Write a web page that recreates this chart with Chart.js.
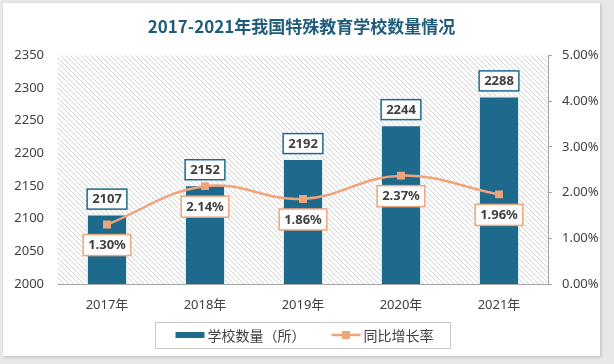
<!DOCTYPE html>
<html><head><meta charset="utf-8">
<script src="https://cdn.jsdelivr.net/npm/chart.js@4"></script>
<style>
html,body{margin:0;padding:0;background:#e8e8e8;width:614px;height:364px;overflow:hidden}
#panel{position:absolute;left:3px;top:3px;width:597px;height:353px;background:#fff;box-shadow:1px 1px 3px rgba(0,0,0,0.2)}
canvas{display:block}
</style></head><body>
<div id="panel"><canvas id="c" width="597" height="353"></canvas></div>
<script>
const categories = ['2017年','2018年','2019年','2020年','2021年'];
const schoolCounts = [2107, 2152, 2192, 2244, 2288];
const growthRates = [1.30, 2.14, 1.86, 2.37, 1.96];
const leftTicks = [2000, 2050, 2100, 2150, 2200, 2250, 2300, 2350];
const rightTicks = [0, 1, 2, 3, 4, 5];
const seriesNames = ['学校数量（所）', '同比增长率'];
const titleText = '2017-2021年我国特殊教育学校数量情况';

const BAR_COLOR = '#1d6a8c';
const LINE_COLOR = '#f0a47a';
const TEXT_COLOR = '#404040';
const AXIS_COLOR = '#a6a6a6';
const FONT = '"Noto Sans", "Noto Sans CJK SC", sans-serif';

function makeHatch(){
  const s = 5;
  const c = document.createElement('canvas'); c.width = s; c.height = s;
  const g = c.getContext('2d');
  g.strokeStyle = '#d2d2d2'; g.lineWidth = 1;
  g.beginPath();
  for (let k = -1; k <= 1; k++){ g.moveTo(k*s, 0); g.lineTo(k*s + s, s); }
  g.stroke();
  return c;
}

const hatchPlugin = {
  id: 'hatch',
  beforeDatasetsDraw(chart){
    const {ctx, chartArea: a} = chart;
    ctx.save();
    ctx.fillStyle = ctx.createPattern(makeHatch(), 'repeat');
    ctx.fillRect(a.left, a.top, a.right - a.left, a.bottom - a.top);
    ctx.restore();
  }
};

function drawBox(ctx, x, y, w, h, color){
  ctx.fillStyle = '#ffffff';
  ctx.fillRect(x, y, w, h);
  ctx.lineWidth = 1.5;
  ctx.strokeStyle = color;
  ctx.strokeRect(x, y, w, h);
}

const labelPlugin = {
  id: 'valueLabels',
  afterDatasetsDraw(chart){
    const ctx = chart.ctx;
    const lineMeta = chart.getDatasetMeta(0);
    const barMeta = chart.getDatasetMeta(1);
    ctx.save();
    ctx.font = 'bold 13px ' + FONT;
    ctx.textAlign = 'center';
    ctx.textBaseline = 'middle';
    barMeta.data.forEach((bar, i) => {
      const txt = String(schoolCounts[i]);
      const w = ctx.measureText(txt).width + 10, h = 20;
      const bottom = bar.y - 5;
      drawBox(ctx, bar.x - w/2, bottom - h, w, h, BAR_COLOR);
      ctx.fillStyle = TEXT_COLOR;
      ctx.fillText(txt, bar.x, bottom - h/2 + 0.5);
    });
    lineMeta.data.forEach((pt, i) => {
      const txt = growthRates[i].toFixed(2) + '%';
      const w = ctx.measureText(txt).width + 10, h = 21;
      const top = pt.y + 10;
      drawBox(ctx, pt.x - w/2, top, w, h, LINE_COLOR);
      ctx.fillStyle = TEXT_COLOR;
      ctx.fillText(txt, pt.x, top + h/2 + 0.5);
    });
    ctx.restore();
  }
};

const legendPlugin = {
  id: 'boxLegend',
  afterDraw(chart){
    const ctx = chart.ctx;
    ctx.save();
    ctx.font = '14px "Noto Sans CJK SC", sans-serif';
    const symW = 29, gap = 3, spacing = 26;
    const w0 = ctx.measureText(seriesNames[0]).width;
    const w1 = ctx.measureText(seriesNames[1]).width;
    const total = symW + gap + w0 + spacing + symW + gap + w1;
    const cx = chart.width/2 + 3;
    const cy = chart.height - 21;
    let x = cx - total/2;
    ctx.strokeStyle = '#c8c8c8'; ctx.lineWidth = 1;
    ctx.strokeRect(Math.round(x - 21) + 0.5, Math.round(cy - 13) + 0.5, Math.round(total + 37), 26);
    ctx.fillStyle = BAR_COLOR;
    ctx.fillRect(x, cy - 3, symW, 6);
    x += symW + gap;
    ctx.fillStyle = TEXT_COLOR; ctx.textAlign = 'left'; ctx.textBaseline = 'middle';
    ctx.fillText(seriesNames[0], x, cy + 1);
    x += w0 + spacing;
    ctx.strokeStyle = LINE_COLOR; ctx.lineWidth = 2.5;
    ctx.beginPath(); ctx.moveTo(x, cy); ctx.lineTo(x + symW, cy); ctx.stroke();
    ctx.fillStyle = LINE_COLOR;
    ctx.fillRect(x + symW/2 - 4, cy - 4, 8, 8);
    x += symW + gap;
    ctx.fillStyle = TEXT_COLOR;
    ctx.fillText(seriesNames[1], x, cy + 1);
    ctx.restore();
  }
};

const tickFont = {family: FONT, size: 13};

new Chart(document.getElementById('c'), {
  data: {
    labels: categories,
    datasets: [
      {
        type: 'line', label: seriesNames[1], data: growthRates, yAxisID: 'y1',
        borderColor: LINE_COLOR, backgroundColor: LINE_COLOR, borderWidth: 2.5,
        tension: 0.4, pointStyle: 'rect', pointRadius: 5.6, pointBorderWidth: 0
      },
      {
        type: 'bar', label: seriesNames[0], data: schoolCounts, yAxisID: 'y',
        backgroundColor: BAR_COLOR, borderColor: 'rgba(235,243,247,0.95)', borderWidth: 1.5,
        categoryPercentage: 1, barPercentage: 0.42
      }
    ]
  },
  options: {
    responsive: false,
    animation: false,
    layout: {padding: {top: 0, left: 0, right: 0, bottom: 30}},
    plugins: {
      legend: {display: false},
      tooltip: {enabled: false},
      title: {
        display: true, text: titleText, color: '#1f5c7c',
        font: {size: 17, weight: 'bold', family: '"Noto Sans CJK SC", sans-serif'},
        padding: {top: 13, bottom: 19}
      }
    },
    scales: {
      x: {
        grid: {display: false},
        border: {display: true, color: AXIS_COLOR, width: 1},
        ticks: {color: TEXT_COLOR, font: tickFont, padding: 5},
        afterFit(s){ s.height = 42; }
      },
      y: {
        position: 'left', min: 2000, max: 2350,
        afterBuildTicks(s){ s.ticks = leftTicks.map(v => ({value: v})); },
        ticks: {color: TEXT_COLOR, font: tickFont, padding: 6, callback: v => String(v)},
        grid: {display: false},
        border: {display: false},
        afterFit(s){ s.width = 55; }
      },
      y1: {
        position: 'right', min: 0, max: 5,
        afterBuildTicks(s){ s.ticks = rightTicks.map(v => ({value: v})); },
        ticks: {color: TEXT_COLOR, font: tickFont, padding: 10, callback: v => Number(v).toFixed(2) + '%'},
        grid: {drawOnChartArea: false, drawTicks: true, tickLength: 4, color: AXIS_COLOR},
        border: {display: true, color: AXIS_COLOR, width: 1},
        afterFit(s){ s.width = 52; }
      }
    }
  },
  plugins: [hatchPlugin, labelPlugin, legendPlugin]
});
</script>
</body></html>
